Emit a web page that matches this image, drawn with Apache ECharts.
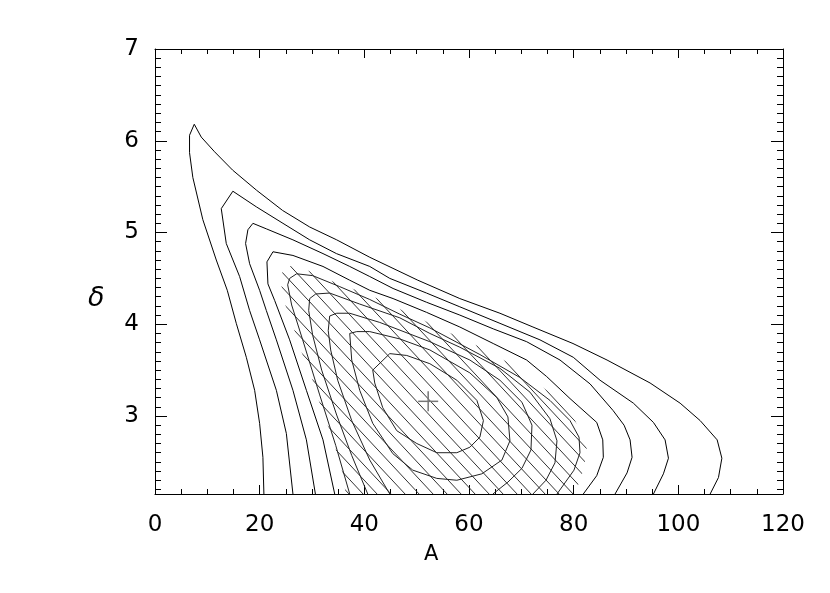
<!DOCTYPE html>
<html><head><meta charset="utf-8">
<script src="https://cdn.jsdelivr.net/npm/echarts@6/dist/echarts.min.js"></script>
<style>html,body{margin:0;padding:0;background:#fff}#chart{width:830px;height:593px}</style>
</head><body><div id="chart"></div>
<script>
// ---- data (A, delta) ----
const xTickValues = [0, 20, 40, 60, 80, 100, 120];
const yTickValues = [3, 4, 5, 6, 7];
const xRange = [0, 120];
const yRange = [2.15, 7];

const c1A = [20.81, 20.62, 19.99, 19.04, 17.45, 15.53, 13.81, 11.71, 9.14, 7.23, 6.60, 6.60, 7.50, 8.84, 11.38, 14.83, 19.42, 24.39, 29.56, 34.72, 41.04, 50.22, 58.25, 65.91, 72.22, 79.87, 86.38, 94.60, 100.34, 104.17, 107.42, 108.32, 107.67, 106.08];
const c1D = [2.15, 2.55, 2.92, 3.28, 3.64, 4.01, 4.37, 4.70, 5.14, 5.60, 5.87, 6.06, 6.18, 6.04, 5.88, 5.68, 5.46, 5.24, 5.06, 4.92, 4.73, 4.48, 4.28, 4.12, 3.97, 3.79, 3.61, 3.36, 3.14, 2.95, 2.74, 2.54, 2.33, 2.15];

const c2A = [26.36, 25.10, 23.19, 19.99, 18.08, 16.17, 13.62, 12.66, 14.88, 19.36, 24.45, 29.56, 34.67, 41.04, 44.86, 51.88, 58.25, 65.91, 73.56, 79.93, 85.04, 91.41, 95.24, 97.47, 98.11, 97.15, 95.24];
const c2D = [2.15, 2.81, 3.28, 3.83, 4.15, 4.52, 4.88, 5.26, 5.45, 5.28, 5.10, 4.92, 4.77, 4.63, 4.50, 4.34, 4.19, 4.01, 3.83, 3.64, 3.39, 3.14, 2.93, 2.74, 2.54, 2.37, 2.15];

const c3A = [30.65, 28.93, 26.36, 23.19, 21.27, 19.99, 18.08, 17.31, 17.75, 18.71, 21.27, 26.36, 32.10, 37.21, 41.04, 45.49, 51.88, 58.25, 64.63, 71.02, 77.39, 83.13, 87.53, 89.63, 90.78, 91.16, 90.20, 87.91];
const c3D = [2.15, 2.74, 3.28, 3.83, 4.15, 4.37, 4.66, 4.88, 5.03, 5.10, 5.04, 4.92, 4.77, 4.63, 4.52, 4.39, 4.24, 4.10, 3.95, 3.81, 3.61, 3.35, 3.06, 2.90, 2.74, 2.55, 2.38, 2.15];

const c4A = [34.34, 32.10, 28.93, 25.73, 22.86, 21.58, 21.39, 22.54, 26.36, 32.10, 37.21, 41.04, 45.49, 51.88, 58.25, 64.63, 71.02, 74.84, 79.30, 84.41, 85.56, 85.67, 84.41, 81.84];
const c4D = [2.15, 2.74, 3.28, 3.83, 4.26, 4.44, 4.68, 4.79, 4.75, 4.63, 4.48, 4.37, 4.28, 4.13, 3.97, 3.79, 3.61, 3.43, 3.19, 2.93, 2.74, 2.55, 2.35, 2.15];

const c5A = [37.21, 34.53, 31.47, 28.22, 26.11, 25.35, 25.73, 27.07, 30.13, 35.30, 41.04, 46.78, 52.52, 62.08, 69.73, 75.47, 79.30, 81.02, 81.21, 80.06, 76.81];
const c5D = [2.15, 2.68, 3.23, 3.83, 4.21, 4.43, 4.50, 4.55, 4.53, 4.41, 4.27, 4.11, 3.96, 3.67, 3.42, 3.17, 2.95, 2.77, 2.60, 2.41, 2.15];

const c6A = [40.65, 37.59, 34.72, 31.85, 30.13, 29.37, 29.56, 30.71, 33.38, 39.12, 46.78, 52.52, 58.25, 65.91, 71.65, 75.47, 76.81, 76.43, 74.71, 72.22];
const c6D = [2.15, 2.57, 3.01, 3.50, 3.88, 4.15, 4.28, 4.33, 4.34, 4.22, 4.07, 3.90, 3.75, 3.52, 3.26, 2.97, 2.73, 2.49, 2.30, 2.15];

const c7A = [44.86, 41.04, 37.59, 34.91, 33.57, 33.10, 33.38, 34.72, 37.21, 42.95, 52.52, 60.17, 65.91, 70.12, 72.03, 71.84, 70.12, 67.44, 64.57];
const c7D = [2.15, 2.52, 2.95, 3.39, 3.72, 3.93, 4.09, 4.12, 4.12, 4.02, 3.81, 3.61, 3.39, 3.15, 2.90, 2.63, 2.43, 2.28, 2.15];

const c8A = [37.21, 38.55, 41.04, 46.78, 52.52, 60.17, 65.33, 67.44, 67.82, 66.29, 62.46, 57.68, 53.85, 49.26, 45.44, 41.61, 39.12, 37.59, 37.21];
const c8D = [3.90, 3.92, 3.92, 3.84, 3.72, 3.47, 3.20, 2.99, 2.73, 2.52, 2.37, 2.30, 2.32, 2.41, 2.59, 2.92, 3.28, 3.61, 3.90];

const c9A = [41.61, 44.86, 48.11, 52.52, 57.68, 61.51, 62.75, 62.08, 60.17, 57.68, 53.85, 50.03, 46.20, 43.52, 41.99, 41.61];
const c9D = [3.50, 3.68, 3.66, 3.57, 3.39, 3.17, 2.95, 2.77, 2.66, 2.60, 2.60, 2.70, 2.84, 3.09, 3.36, 3.50];

// hatched (confidence) region boundary
const hatchA = [36.44, 35.87, 34.91, 33.71, 32.43, 31.09, 29.94, 28.22, 26.88, 25.35, 24.39, 24.01, 24.58, 26.31, 28.22, 33.38, 38.55, 42.95, 47.35, 52.52, 57.30, 62.46, 68.20, 76.05, 80.26, 82.55, 81.98, 80.26];
const hatchD = [2.15, 2.37, 2.57, 2.79, 2.99, 3.20, 3.42, 3.66, 3.90, 4.12, 4.32, 4.50, 4.61, 4.64, 4.61, 4.48, 4.37, 4.27, 4.15, 4.01, 3.88, 3.74, 3.56, 3.23, 2.95, 2.68, 2.43, 2.15];

// best fit marker
const bestA = [52.2];
const bestD = [3.16];

// ---- build ----
const yMinorTickValues = [];
for (let i = 22; i <= 69; i++) if (i % 10 !== 0) yMinorTickValues.push(i / 10);

const contours = [[c1A, c1D], [c2A, c2D], [c3A, c3D], [c4A, c4D], [c5A, c5D], [c6A, c6D], [c7A, c7D], [c8A, c8D], [c9A, c9D]];
const pairs = (a, d) => a.map((v, i) => [v, d[i]]);

const tile = document.createElement('canvas');
tile.width = 14; tile.height = 15;
const g = tile.getContext('2d');
g.strokeStyle = '#333'; g.lineWidth = 1;
for (const k of [-1, 0, 1]) {
  g.beginPath(); g.moveTo(-14, -15 + k * 15); g.lineTo(28, 30 + k * 15); g.stroke();
}
const hatchFill = { image: tile, repeat: 'repeat' };

const FONT = 'DejaVu Sans';
const GRID = { left: 155, right: 47, top: 49, bottom: 99 };
const axisLine = { show: true, onZero: false, lineStyle: { color: '#000', width: 1 } };
function xAx(pos, showLabel, gridIndex, visible) {
  return {
    type: 'value', gridIndex: gridIndex, position: pos, min: xRange[0], max: xRange[1], interval: 20, show: visible,
    axisLine: axisLine,
    axisTick: { show: true, inside: true, length: 9, lineStyle: { color: '#000' } },
    minorTick: { show: true, splitNumber: 4, length: 5, lineStyle: { color: '#000' } },
    axisLabel: { show: showLabel, margin: 20, color: '#000', fontSize: 23, fontFamily: FONT },
    splitLine: { show: false }, minorSplitLine: { show: false }
  };
}
function yAx(pos, major, showLabel, gridIndex) {
  return {
    type: 'value', gridIndex: gridIndex, position: pos, min: yRange[0], max: yRange[1],
    axisLine: major ? axisLine : { show: false },
    axisTick: { show: true, inside: true, length: major ? 12 : 6,
      customValues: major ? yTickValues : yMinorTickValues, lineStyle: { color: '#000' } },
    axisLabel: { show: showLabel, customValues: yTickValues, margin: 16, color: '#000', fontSize: 23, fontFamily: FONT },
    splitLine: { show: false }
  };
}

const series = [];
series.push({
  type: 'custom', xAxisIndex: 0, yAxisIndex: 0, silent: true, z: 1, clip: true,
  data: [[hatchA[0], hatchD[0]]],
  renderItem: function (params, api) {
    const pts = hatchA.map((a, i) => api.coord([a, hatchD[i]]));
    return { type: 'polygon', shape: { points: pts }, style: { fill: hatchFill, stroke: null } };
  }
});
contours.forEach(([a, d], i) => {
  series.push({
    type: 'line', xAxisIndex: 0, yAxisIndex: 0, data: pairs(a, d), symbol: 'none', silent: true,
    lineStyle: { color: i < 4 ? '#000' : '#222', width: 1 }, z: 3, clip: true
  });
});
series.push({
  type: 'custom', xAxisIndex: 0, yAxisIndex: 0, silent: true, z: 4,
  data: pairs(bestA, bestD),
  renderItem: function (params, api) {
    const p = api.coord([api.value(0), api.value(1)]);
    const st = { stroke: '#777', lineWidth: 1.5 };
    return { type: 'group', children: [
      { type: 'line', shape: { x1: p[0] - 10, y1: p[1], x2: p[0] + 10, y2: p[1] }, style: st },
      { type: 'line', shape: { x1: p[0], y1: p[1] - 10, x2: p[0], y2: p[1] + 10 }, style: st }
    ] };
  }
});

const chart = echarts.init(document.getElementById('chart'), null, { renderer: 'canvas' });
chart.setOption({
  animation: false,
  backgroundColor: '#fff',
  grid: [Object.assign({}, GRID), Object.assign({}, GRID)],
  xAxis: [xAx('bottom', true, 0, true), xAx('top', false, 0, true), xAx('bottom', false, 1, false)],
  yAxis: [yAx('left', true, true, 0), yAx('right', true, false, 0), yAx('left', false, false, 1), yAx('right', false, false, 1)],
  graphic: [
    { type: 'text', left: 424, top: 544, style: { text: 'A', fontSize: 21, fontFamily: FONT, fill: '#000' } },
    { type: 'text', left: 88, top: 285, style: { text: 'δ', fontSize: 27, fontStyle: 'italic', fontFamily: FONT, fill: '#000' } }
  ],
  series: series
});
</script>
</body></html>
